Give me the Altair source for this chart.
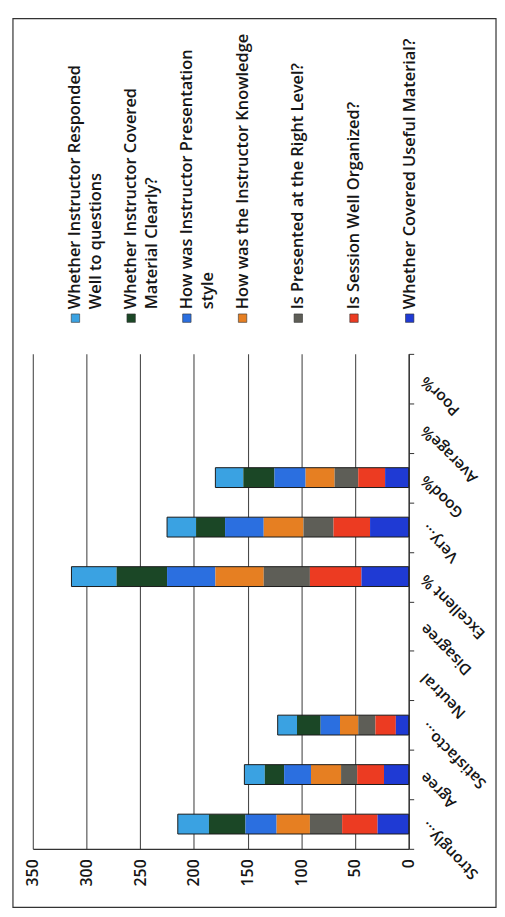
import altair as alt
import pandas as pd

categories = ["Strongly...", "Agree", "Satisfacto...", "Neutral", "Disagree",
              "Excellent %", "Very...", "Good%", "Average%", "Poor%"]

series = [
    "Whether Instructor Responded Well to questions",
    "Whether Instructor Covered Material Clearly?",
    "How was Instructor Presentation style",
    "How was the Instructor Knowledge",
    "Is Presented at the Right Level?",
    "Is Session Well Organized?",
    "Whether Covered Useful Material?",
]
legend_lines = [
    ["Whether Instructor Responded", "Well to questions"],
    ["Whether Instructor Covered", "Material Clearly?"],
    ["How was Instructor Presentation", "style"],
    ["How was the Instructor Knowledge"],
    ["Is Presented at the Right Level?"],
    ["Is Session Well Organized?"],
    ["Whether Covered Useful Material?"],
]
colors = ["#3aa2e2", "#1b4726", "#2b6fe0", "#e67f22", "#5e5e57", "#ec3b22", "#1f3ad4"]

responded    = [29, 19, 18, 0, 0, 42, 27, 26, 0, 0]
covered      = [34, 18, 22, 0, 0, 47, 27, 29, 0, 0]
presentation = [29, 25, 18, 0, 0, 45, 36, 29, 0, 0]
knowledge    = [31, 28, 17, 0, 0, 45, 37, 27, 0, 0]
right_level  = [30, 15, 16, 0, 0, 43, 28, 22, 0, 0]
organized    = [33, 25, 19, 0, 0, 48, 34, 25, 0, 0]
useful       = [29, 23, 12, 0, 0, 44, 36, 22, 0, 0]
value_ticks = [0, 50, 100, 150, 200, 250, 300, 350]

values = [responded, covered, presentation, knowledge, right_level, organized, useful]

rows = []
for si, (s, vals) in enumerate(zip(series, values)):
    for c, v in zip(categories, vals):
        rows.append({"series": s, "si": si, "cat": c, "v": v})
df = pd.DataFrame(rows)

sq_df = pd.DataFrame({"series": series, "idx": list(range(len(series)))})
txt_rows = []
for i, lines in enumerate(legend_lines):
    for j, t in enumerate(lines):
        txt_rows.append({"idx": i, "line": j, "text": t})
txt_df = pd.DataFrame(txt_rows)

FONT = "Open Sans"
TXT = "#161616"
W, H = 379, 499

color_scale = alt.Scale(domain=series, range=colors)
x_scale = alt.Scale(domain=[0, 350], reverse=True, nice=False)
y_scale = alt.Scale(domain=categories[::-1], paddingInner=0, paddingOuter=0)

x_axis = alt.Axis(values=value_ticks, title=None, labelAngle=270, labelAlign="right",
                  labelBaseline="middle", labelPadding=10, labelFontSize=16,
                  labelFont=FONT, labelFontWeight=600, labelColor=TXT, ticks=False, grid=True,
                  gridColor="#4a4a4a", gridWidth=1.1, domainColor="#333333", domainWidth=1.3)
y_axis = alt.Axis(orient="right", title=None, labelAngle=225, labelAlign="right",
                  labelBaseline="middle", labelPadding=9, tickBand="extent", tickSize=5,
                  tickColor="#333333", domainColor="#333333", domainWidth=1.3,
                  labelFontSize=15.5, labelFont=FONT, labelFontWeight=600, labelColor=TXT,
                  grid=False)

base = alt.Chart(df).transform_filter("datum.v > 0")

bars = base.mark_bar(size=20).encode(
    x=alt.X("v:Q", stack="zero", scale=x_scale, axis=x_axis),
    y=alt.Y("cat:N", scale=y_scale, axis=y_axis),
    color=alt.Color("series:N", scale=color_scale, legend=None),
    order=alt.Order("si:Q", sort="descending"),
)
outline = base.mark_bar(size=20, fillOpacity=0, stroke="#1a1a1a", strokeWidth=1).encode(
    x=alt.X("sum(v):Q", scale=x_scale, axis=x_axis),
    y=alt.Y("cat:N", scale=y_scale, axis=y_axis),
)
main = alt.layer(bars, outline)

leg_x = alt.Scale(domain=[0, 6], range=[43, 380])
legend_sq = alt.Chart(sq_df).mark_square(size=72, stroke="#333333", strokeWidth=0.6, opacity=1).encode(
    x=alt.X("idx:Q", scale=leg_x, axis=None),
    y=alt.value(-36),
    color=alt.Color("series:N", scale=color_scale, legend=None),
)
legend_txt = alt.Chart(txt_df).transform_calculate(
    lx="datum.idx + datum.line * 0.375"
).mark_text(angle=270, align="left", baseline="middle", fontSize=16.5, font=FONT,
            fontWeight=600, color=TXT).encode(
    x=alt.X("lx:Q", scale=leg_x, axis=None),
    y=alt.value(-45),
    text="text:N",
)
border = alt.Chart(pd.DataFrame({"a": [0]})).mark_rect(
    fillOpacity=0, stroke="#333333", strokeWidth=1.2
).encode(x=alt.value(-20), x2=alt.value(467), y=alt.value(-338), y2=alt.value(558))

chart = alt.layer(main, legend_sq, legend_txt, border).resolve_scale(
    x="independent", y="independent", color="independent"
).properties(
    width=W, height=H,
    padding={"left": 25, "top": 345, "right": 89, "bottom": 61},
    autosize=alt.AutoSizeParams(type="none"),
    background="white",
).configure_view(strokeWidth=0)

chart.save("out.html", embed_options={"renderer": "svg", "actions": False})
